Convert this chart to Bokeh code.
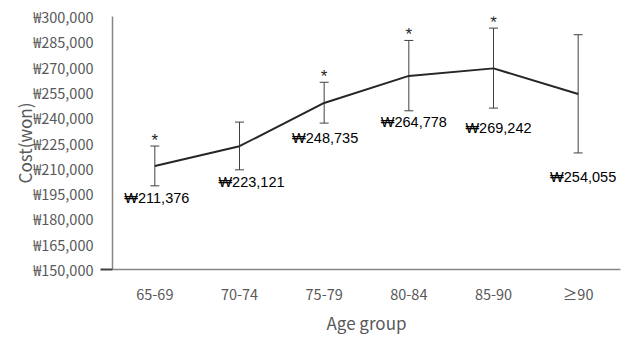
from bokeh.plotting import figure
from bokeh.models import (ColumnDataSource, FactorRange, Range1d, FixedTicker,
                          Whisker, LabelSet, LinearAxis)
from bokeh.core.properties import value
from bokeh.embed import file_html
from bokeh.resources import INLINE

# ---- data ----
age_groups = ["65-69", "70-74", "75-79", "80-84", "85-90", "\u226590"]
mean_cost = [211376, 223121, 248735, 264778, 269242, 254055]
upper_ci = [223200, 237400, 261000, 285800, 293100, 289200]
lower_ci = [199600, 209100, 236800, 244100, 245700, 219100]
significant = [True, False, True, True, True, False]
y_ticks = list(range(150000, 300001, 15000))

# ---- style (label pixel offsets) ----
label_dx = [2, 12, 1, 5, 5, 5]
label_dy = [-32, -36, -35, -46, -60, -83]

W, H = 621, 337
p = figure(x_range=FactorRange(*age_groups), y_range=Range1d(150000, 300000),
           width=W, height=H, output_backend="svg", toolbar_location=None,
           min_border_left=112, min_border_right=1, min_border_top=16,
           min_border_bottom=67)
p.outline_line_color = None
p.grid.visible = False

src = ColumnDataSource(dict(
    x=age_groups, y=mean_cost, up=upper_ci, lo=lower_ci,
    lab=["\u20a9{:,}".format(v) for v in mean_cost],
    dx=label_dx, dy=label_dy,
))

p.line("x", "y", source=src, line_color="#262626", line_width=2)

wh = Whisker(source=src, base="x", upper="up", lower="lo",
             line_color="#404040", line_width=1)
wh.upper_head.size = 9
wh.lower_head.size = 9
wh.upper_head.line_color = "#404040"
wh.lower_head.line_color = "#404040"
p.add_layout(wh)

sig_src = ColumnDataSource(dict(
    x=[a for a, s in zip(age_groups, significant) if s],
    y=[u for u, s in zip(upper_ci, significant) if s],
    t=["*" for s in significant if s],
))
p.add_layout(LabelSet(x="x", y="y", text="t", source=sig_src, y_offset=0,
                      text_align="center", text_baseline="alphabetic",
                      text_font=value("Liberation Sans"), text_font_size="17px",
                      text_color="#262626"))

p.add_layout(LabelSet(x="x", y="y", text="lab", source=src,
                      x_offset="dx", y_offset="dy",
                      text_align="center", text_baseline="middle",
                      text_font=value("Liberation Sans"), text_font_size="14.5px",
                      text_color="#000000"))

# inner y axis: axis line + the single tick at the baseline
ya = p.yaxis[0]
ya.ticker = FixedTicker(ticks=[y_ticks[0]])
ya.major_label_overrides = {y_ticks[0]: " "}
ya.major_label_standoff = 0
ya.major_tick_out = 12
ya.major_tick_in = 0
ya.major_tick_line_color = "#404040"
ya.major_tick_line_width = 2
ya.minor_tick_out = 0
ya.minor_tick_in = 0
ya.axis_line_color = "#868686"
ya.axis_line_width = 1.5

# outer y axis: tick labels and title
ya2 = LinearAxis(ticker=FixedTicker(ticks=y_ticks))
ya2.major_label_overrides = {v: "\u20a9{:,}".format(v) for v in y_ticks}
ya2.axis_line_color = None
ya2.major_tick_out = 0
ya2.major_tick_in = 0
ya2.minor_tick_out = 0
ya2.minor_tick_in = 0
ya2.major_label_standoff = 1
ya2.major_label_text_font = "Noto Sans CJK KR"
ya2.major_label_text_font_size = "14.5px"
ya2.major_label_text_color = "#595959"
ya2.axis_label = "Cost(won)"
ya2.axis_label_text_font = "Noto Sans CJK KR"
ya2.axis_label_text_font_style = "normal"
ya2.axis_label_text_font_size = "17px"
ya2.axis_label_text_color = "#595959"
ya2.axis_label_standoff = -7
p.add_layout(ya2, "left")

# x axis
xa = p.xaxis[0]
xa.major_tick_out = 0
xa.major_tick_in = 0
xa.axis_line_color = "#868686"
xa.axis_line_width = 1.5
xa.major_label_standoff = 13
xa.major_label_text_font = "Noto Sans CJK KR"
xa.major_label_text_font_size = "14.5px"
xa.major_label_text_color = "#595959"
xa.axis_label = "Age group"
xa.axis_label_text_font = "Noto Sans CJK KR"
xa.axis_label_text_font_style = "normal"
xa.axis_label_text_font_size = "17px"
xa.axis_label_text_color = "#595959"
xa.axis_label_standoff = 3

open("out.html", "w").write(file_html(p, INLINE))
